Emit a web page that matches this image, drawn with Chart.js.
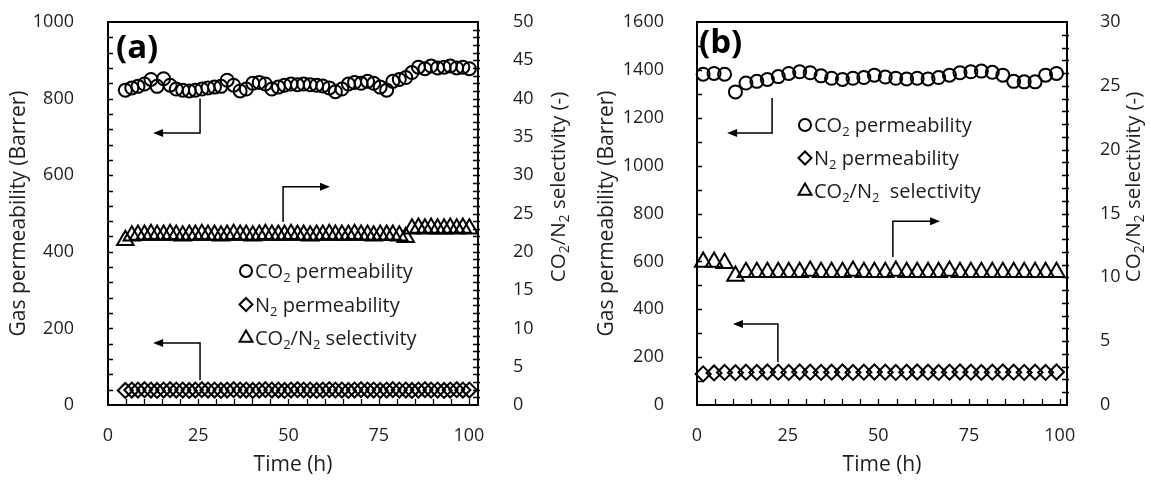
<!DOCTYPE html>
<html>
<head>
<meta charset="utf-8">
<script src="https://cdn.jsdelivr.net/npm/chart.js@4.4.1/dist/chart.umd.min.js"></script>
<style>
  html, body { margin: 0; padding: 0; background: #fff; }
  #wrap { position: relative; width: 1151px; height: 481px; }
  canvas { position: absolute; top: 0; }
  #chartA { left: 0; }
  #chartB { left: 576px; }
</style>
</head>
<body>
<div id="wrap">
  <canvas id="chartA" width="576" height="481"></canvas>
  <canvas id="chartB" width="575" height="481"></canvas>
</div>
<script>
const FONT = '"Open Sans", Lato, sans-serif';
const INK = '#000';
const TEXT = '#1e1e1e';

// ---- panel (a) ----
const timeA = [4.8, 6.6, 8.3, 10.1, 11.9, 13.6, 15.4, 17.2, 18.9, 20.7, 22.5, 24.2, 26.0, 27.7,
  29.5, 31.3, 33.0, 34.8, 36.6, 38.3, 40.1, 41.9, 43.6, 45.4, 47.2, 48.9, 50.7, 52.5, 54.2, 56.0,
  57.8, 59.5, 61.3, 63.0, 64.8, 66.6, 68.3, 70.1, 71.9, 73.6, 75.4, 77.2, 78.9, 80.7, 82.5, 84.2,
  86.0, 87.8, 89.5, 91.3, 93.1, 94.8, 96.6, 98.3, 100.1];
const co2PermA = [822, 828, 832, 838, 850, 832, 852, 835, 825, 822, 820, 822, 825, 828,
  830, 832, 848, 835, 820, 825, 840, 842, 838, 825, 830, 835, 838, 836, 838, 836,
  835, 833, 828, 818, 825, 838, 842, 840, 845, 840, 830, 822, 845, 850, 855, 868,
  882, 878, 885, 880, 882, 885, 880, 882, 878];
const n2PermA = [38, 39, 39, 40, 39, 38, 39, 40, 39, 39, 38, 39, 40, 39,
  39, 38, 39, 40, 39, 39, 38, 39, 40, 39, 39, 38, 39, 40, 39, 39,
  38, 39, 40, 39, 39, 38, 39, 40, 39, 39, 38, 39, 40, 39, 39, 38,
  39, 40, 39, 39, 38, 39, 40, 39, 39];
const selectivityA = [21.5, 22.1, 22.2, 22.2, 22.3, 22.2, 22.2, 22.3, 22.2, 22.1, 22.2, 22.2, 22.3, 22.2,
  22.2, 22.1, 22.2, 22.3, 22.2, 22.2, 22.1, 22.2, 22.3, 22.2, 22.2, 22.2, 22.3, 22.2, 22.2, 22.1,
  22.2, 22.2, 22.3, 22.2, 22.2, 22.2, 22.3, 22.2, 22.2, 22.1, 22.2, 22.2, 22.2, 22.1, 21.9, 23.0,
  23.1, 23.0, 23.1, 23.0, 23.0, 23.1, 23.0, 23.1, 23.0];

// ---- panel (b) ----
const timeB = [1.7, 4.7, 7.6, 10.6, 13.5, 16.5, 19.4, 22.4, 25.3, 28.3, 31.2, 34.2, 37.1, 40.1,
  43.0, 46.0, 48.9, 51.9, 54.8, 57.8, 60.7, 63.7, 66.6, 69.6, 72.5, 75.5, 78.4, 81.4, 84.3, 87.3,
  90.2, 93.2, 96.1, 99.1];
const co2PermB = [1382, 1385, 1382, 1308, 1345, 1352, 1360, 1372, 1385, 1392, 1388, 1375, 1365, 1360,
  1365, 1368, 1378, 1370, 1365, 1362, 1365, 1362, 1368, 1378, 1388, 1392, 1395, 1390, 1378, 1352,
  1350, 1350, 1378, 1385];
const n2PermB = [130, 134, 136, 135, 137, 136, 138, 137, 136, 138, 137, 136, 137, 138,
  136, 137, 138, 137, 136, 137, 138, 137, 136, 137, 138, 137, 136, 137, 138, 137,
  136, 137, 136, 138];
const selectivityB = [11.2, 11.2, 11.1, 10.1, 10.4, 10.4, 10.4, 10.4, 10.4, 10.4, 10.5, 10.4, 10.4, 10.4,
  10.5, 10.4, 10.4, 10.4, 10.5, 10.4, 10.4, 10.4, 10.4, 10.5, 10.4, 10.4, 10.4, 10.4, 10.4, 10.4,
  10.4, 10.4, 10.4, 10.4];

// axis tick labels
const timeTicks = [0, 25, 50, 75, 100];
const permTicksA = [0, 200, 400, 600, 800, 1000];
const selTicksA = [0, 5, 10, 15, 20, 25, 30, 35, 40, 45, 50];
const permTicksB = [0, 200, 400, 600, 800, 1000, 1200, 1400, 1600];
const selTicksB = [0, 5, 10, 15, 20, 25, 30];

const labelsA = ['CO₂ permeability', 'N₂ permeability', 'CO₂/N₂ selectivity'];
const labelsB = ['CO₂ permeability', 'N₂ permeability', 'CO₂/N₂  selectivity'];
const rightTitle = 'CO₂/N₂ selectivity (-)';

const STYLES = [
  { pointStyle: 'circle', radius: 6.5, axis: 'y' },
  { pointStyle: 'rectRot', radius: 7.5, axis: 'y' },
  { pointStyle: 'triangle', radius: 9.5, axis: 'y2' }
];

// text with subscript twos
function drawRich(ctx, text, x, y, size, align) {
  const parts = [];
  let buf = '';
  for (const ch of text) {
    if (ch === '₂') {
      if (buf) parts.push({ t: buf, sub: false });
      parts.push({ t: '2', sub: true });
      buf = '';
    } else buf += ch;
  }
  if (buf) parts.push({ t: buf, sub: false });
  const big = size + 'px ' + FONT;
  const small = Math.round(size * 0.66) + 'px ' + FONT;
  let w = 0;
  parts.forEach(p => { ctx.font = p.sub ? small : big; p.w = ctx.measureText(p.t).width; w += p.w; });
  let cx = align === 'center' ? x - w / 2 : x;
  ctx.textAlign = 'left';
  ctx.textBaseline = 'alphabetic';
  parts.forEach(p => {
    ctx.font = p.sub ? small : big;
    ctx.fillText(p.t, cx, y + (p.sub ? size * 0.2 : 0));
    cx += p.w;
  });
}

function symbol(ctx, style, x, y, r) {
  ctx.beginPath();
  if (style === 'circle') {
    ctx.arc(x, y, r, 0, Math.PI * 2);
  } else if (style === 'rectRot') {
    ctx.moveTo(x - r, y); ctx.lineTo(x, y - r); ctx.lineTo(x + r, y); ctx.lineTo(x, y + r);
    ctx.closePath();
  } else {
    const h = r * 0.866;
    ctx.moveTo(x, y - r); ctx.lineTo(x + h, y + r / 2); ctx.lineTo(x - h, y + r / 2);
    ctx.closePath();
  }
  ctx.stroke();
}

// frame, inner ticks, arrows, legend and panel tag
const panelDecor = {
  id: 'panelDecor',
  afterDatasetsDraw(chart, args, o) {
    const ctx = chart.ctx;
    const { left, right, top, bottom } = chart.chartArea;
    const sx = chart.scales.x, yl = chart.scales.y, yr = chart.scales.y2;
    ctx.save();
    ctx.strokeStyle = INK;
    ctx.fillStyle = INK;
    ctx.lineWidth = 1.3;
    ctx.beginPath();
    for (let i = 1; i * o.xMinor < sx.max; i++) {
      const px = Math.round(sx.getPixelForValue(i * o.xMinor)) + 0.5;
      ctx.moveTo(px, bottom); ctx.lineTo(px, bottom - 6);
    }
    for (let i = 1; i * o.leftMinor < yl.max; i++) {
      const py = Math.round(yl.getPixelForValue(i * o.leftMinor)) + 0.5;
      ctx.moveTo(left, py); ctx.lineTo(left + 5, py);
    }
    for (let i = 1; i * o.rightMinor < yr.max; i++) {
      const py = Math.round(yr.getPixelForValue(i * o.rightMinor)) + 0.5;
      ctx.moveTo(right - 5, py); ctx.lineTo(right + 2, py);
    }
    ctx.stroke();

    ctx.lineWidth = 2;
    ctx.strokeRect(left, top, right - left, bottom - top);

    // arrows pointing to the axis each series belongs to
    ctx.lineWidth = 1.5;
    o.arrows.forEach(a => {
      const ys = chart.scales[a.axis];
      const x0 = sx.getPixelForValue(a.x), x1 = sx.getPixelForValue(a.xTo);
      const y0 = ys.getPixelForValue(a.yFrom), y1 = ys.getPixelForValue(a.yTo);
      const dir = Math.sign(x1 - x0);
      ctx.beginPath();
      ctx.moveTo(x0, y0); ctx.lineTo(x0, y1); ctx.lineTo(x1 - dir * 8, y1);
      ctx.stroke();
      ctx.beginPath();
      ctx.moveTo(x1, y1); ctx.lineTo(x1 - dir * 10, y1 - 4); ctx.lineTo(x1 - dir * 10, y1 + 4);
      ctx.closePath();
      ctx.fill();
    });

    // legend
    ctx.lineWidth = 2;
    chart.data.datasets.forEach((ds, i) => {
      const lx = left + o.legend.dx, ly = top + o.legend.dy + i * o.legend.gap;
      symbol(ctx, ds.pointStyle, lx, ly, o.legend.radii[i]);
      ctx.fillStyle = TEXT;
      drawRich(ctx, ds.label, lx + o.legend.textDx, ly + 7, 20, 'left');
    });

    // panel tag
    ctx.fillStyle = INK;
    ctx.font = 'bold 33px ' + FONT;
    ctx.textAlign = 'left';
    ctx.textBaseline = 'alphabetic';
    ctx.fillText(o.tag, left + o.tagDx, top + o.tagDy);

    // secondary axis title, reading upwards
    ctx.fillStyle = TEXT;
    ctx.translate(right + o.rightTitleDx, top + 165);
    ctx.rotate(-Math.PI / 2);
    drawRich(ctx, rightTitle, 0, 7, 20.5, 'center');
    ctx.restore();
  }
};

// keep the plot box where it belongs: fixed axis sizes, no label padding leaking in
function fixVertical(width) {
  return s => { s.width = width; s.paddingTop = 0; s.paddingBottom = 0; };
}

function makeChart(id, p) {
  const datasets = p.series.map((vals, i) => ({
    label: p.labels[i],
    data: p.time.map((t, k) => ({ x: t, y: vals[k] })),
    yAxisID: STYLES[i].axis,
    showLine: false,
    pointStyle: STYLES[i].pointStyle,
    pointRadius: STYLES[i].radius,
    pointBorderWidth: 2,
    pointBorderColor: INK,
    pointBackgroundColor: 'rgba(0,0,0,0)',
    clip: false
  }));
  const tickFont = { family: FONT, size: 18 };
  const titleFont = { family: FONT, size: 21 };
  const plain = v => String(v);
  return new Chart(document.getElementById(id), {
    type: 'scatter',
    data: { datasets },
    options: {
      responsive: false,
      animation: false,
      layout: { padding: { top: 22, left: 0, right: 0, bottom: 0 } },
      plugins: {
        legend: { display: false },
        tooltip: { enabled: false },
        panelDecor: p.decor
      },
      scales: {
        x: {
          type: 'linear', min: 0, max: p.xMax,
          grid: { display: false }, border: { display: false },
          afterBuildTicks: s => { s.ticks = timeTicks.map(v => ({ value: v })); },
          afterFit: s => { s.height = 76; s.paddingLeft = 0; s.paddingRight = 0; },
          ticks: { font: tickFont, color: TEXT, padding: 12, maxRotation: 0, autoSkip: false, callback: plain },
          title: { display: true, text: 'Time (h)', font: titleFont, color: TEXT, padding: { top: 0, bottom: 3 } }
        },
        y: {
          position: 'left', min: 0, max: p.leftMax,
          grid: { display: false }, border: { display: false },
          afterBuildTicks: s => { s.ticks = p.leftTicks.map(v => ({ value: v })); },
          afterFit: fixVertical(p.leftW),
          ticks: { font: tickFont, color: TEXT, padding: p.leftPad, autoSkip: false, callback: plain },
          title: { display: true, text: 'Gas permeability (Barrer)', font: titleFont, color: TEXT, padding: { top: p.leftTitlePad, bottom: 0 } }
        },
        y2: {
          position: 'right', min: 0, max: p.rightMax,
          grid: { display: false }, border: { display: false },
          afterBuildTicks: s => { s.ticks = p.rightTicks.map(v => ({ value: v })); },
          afterFit: fixVertical(p.rightW),
          ticks: { font: tickFont, color: TEXT, padding: p.rightPad, autoSkip: false, callback: plain }
        }
      }
    },
    plugins: [panelDecor]
  });
}

makeChart('chartA', {
  time: timeA,
  series: [co2PermA, n2PermA, selectivityA],
  labels: labelsA,
  xMax: 102.5, leftMax: 1000, rightMax: 50,
  leftTicks: permTicksA, rightTicks: selTicksA,
  leftW: 108, rightW: 98, leftPad: 26, rightPad: 27, leftTitlePad: 6,
  decor: {
    xMinor: 5, leftMinor: 40, rightMinor: 1,
    tag: '(a)', tagDx: 8, tagDy: 36,
    rightTitleDx: 80,
    legend: { dx: 138, dy: 249, gap: 33.5, textDx: 9, radii: [6, 6.5, 7.5] },
    arrows: [
      { axis: 'y', x: 25.5, yFrom: 800, yTo: 710, xTo: 12.5 },
      { axis: 'y2', x: 48.5, yFrom: 23.9, yTo: 28.5, xTo: 61.5 },
      { axis: 'y', x: 25.5, yFrom: 65, yTo: 162, xTo: 12.5 }
    ]
  }
});

makeChart('chartB', {
  time: timeB,
  series: [co2PermB, n2PermB, selectivityB],
  labels: labelsB,
  xMax: 102, leftMax: 1600, rightMax: 30,
  leftTicks: permTicksB, rightTicks: selTicksB,
  leftW: 121, rightW: 84, leftPad: 25, rightPad: 25, leftTitlePad: 18,
  decor: {
    xMinor: 5, leftMinor: 100, rightMinor: 1,
    tag: '(b)', tagDx: 2, tagDy: 31,
    rightTitleDx: 66,
    legend: { dx: 108, dy: 103, gap: 33, textDx: 9, radii: [6, 6.5, 7.5] },
    arrows: [
      { axis: 'y', x: 20.7, yFrom: 1282, yTo: 1136, xTo: 8.3 },
      { axis: 'y2', x: 54, yFrom: 11.6, yTo: 14.4, xTo: 67 },
      { axis: 'y', x: 22.3, yFrom: 180, yTo: 338, xTo: 9.9 }
    ]
  }
});
</script>
</body>
</html>
